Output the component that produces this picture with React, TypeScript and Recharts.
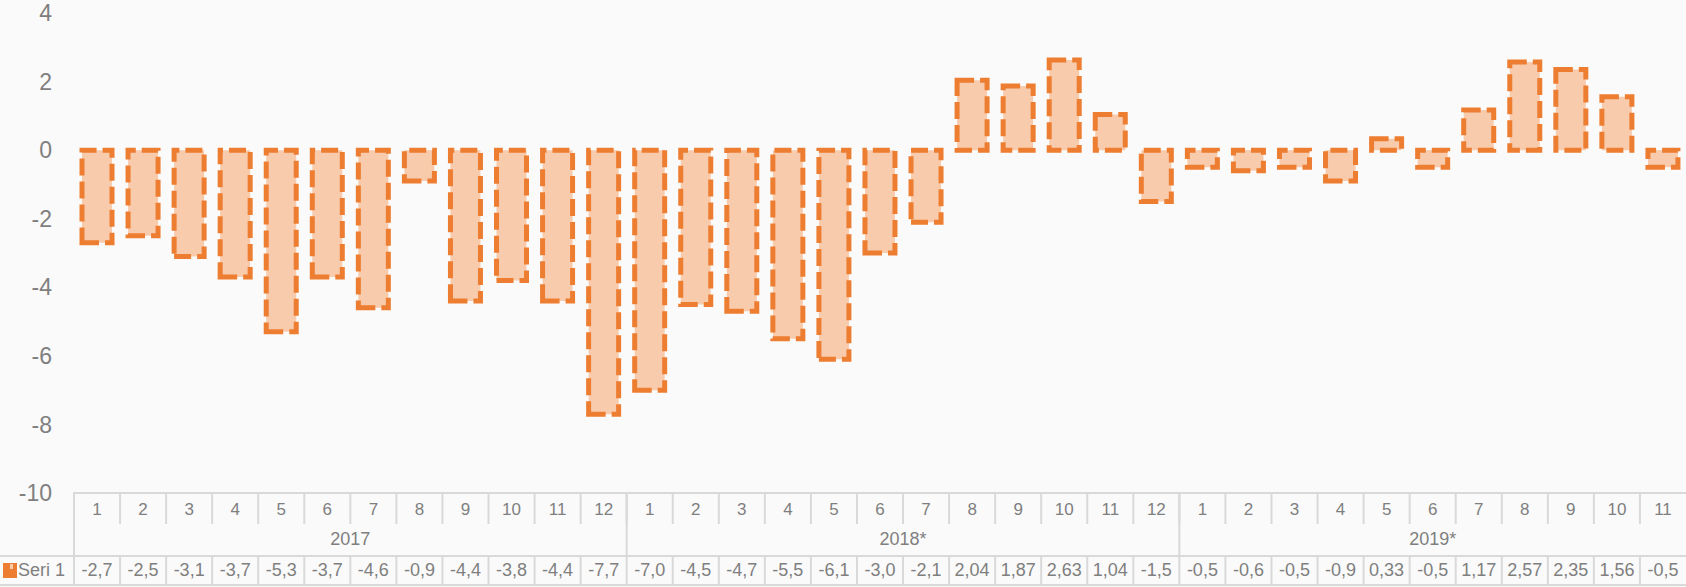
import React from "react";
import { Bar, ComposedChart, XAxis, YAxis } from "recharts";

const years = ["2017", "2018*", "2019*"];
const monthsPerYear = [12, 12, 11];

const months = [
  1, 2, 3, 4, 5, 6, 7, 8, 9, 10, 11, 12,
  1, 2, 3, 4, 5, 6, 7, 8, 9, 10, 11, 12,
  1, 2, 3, 4, 5, 6, 7, 8, 9, 10, 11,
];

const values = [
  -2.7, -2.5, -3.1, -3.7, -5.3, -3.7, -4.6, -0.9, -4.4, -3.8, -4.4, -7.7,
  -7.0, -4.5, -4.7, -5.5, -6.1, -3.0, -2.1, 2.04, 1.87, 2.63, 1.04, -1.5,
  -0.5, -0.6, -0.5, -0.9, 0.33, -0.5, 1.17, 2.57, 2.35, 1.56, -0.5,
];

const valueLabels = [
  "-2,7", "-2,5", "-3,1", "-3,7", "-5,3", "-3,7", "-4,6", "-0,9", "-4,4", "-3,8", "-4,4", "-7,7",
  "-7,0", "-4,5", "-4,7", "-5,5", "-6,1", "-3,0", "-2,1", "2,04", "1,87", "2,63", "1,04", "-1,5",
  "-0,5", "-0,6", "-0,5", "-0,9", "0,33", "-0,5", "1,17", "2,57", "2,35", "1,56", "-0,5",
];

const yTicks = [-10, -8, -6, -4, -2, 0, 2, 4];
const seriesName = "Seri 1";

const W = 1686;
const H = 587;
const LEFT = 74;
const TOP = 13;
const MONTH_H = 31;
const YEAR_H = 32;
const VALUE_H = 31;

const TEXT = "#7F7F7F";
const GRID = "#D9D9D9";
const ORANGE = "#ED7D31";
const PEACH = "#F8CBAD";
const FONT = "'Liberation Sans', Arial, sans-serif";

// year index for each column
const yearOf: number[] = [];
monthsPerYear.forEach((n, yi) => {
  for (let i = 0; i < n; i++) yearOf.push(yi);
});

const data = values.map((v, i) => ({
  idx: i,
  month: months[i],
  value: v,
  label: valueLabels[i],
  year: yearOf[i],
}));

const CELL = (W - LEFT) / data.length;

function MonthTick(props: any) {
  const { x, y, index } = props;
  const d = data[index];
  if (!d) return null;
  const right = x + CELL / 2;
  return (
    <g>
      <text
        x={x}
        y={y + 16}
        textAnchor="middle"
        dominantBaseline="central"
        fill={TEXT}
        fontSize={17}
        fontFamily={FONT}
      >
        {d.month}
      </text>
      {index < data.length - 1 && (
        <line x1={right} x2={right} y1={y} y2={y + MONTH_H} stroke={GRID} strokeWidth={2} />
      )}
      {index === 0 && (
        <line x1={LEFT} x2={LEFT} y1={y - 1} y2={y + MONTH_H + YEAR_H + VALUE_H - 1} stroke={GRID} strokeWidth={2} />
      )}
    </g>
  );
}

function YearTick(props: any) {
  const { x, y, index } = props;
  const d = data[index];
  if (!d) return null;
  if (index > 0 && data[index - 1].year === d.year) return null;
  const n = monthsPerYear[d.year];
  const start = x - CELL / 2;
  const end = start + n * CELL;
  return (
    <g>
      <text
        x={(start + end) / 2}
        y={y + 15}
        textAnchor="middle"
        dominantBaseline="central"
        fill={TEXT}
        fontSize={18}
        fontFamily={FONT}
      >
        {years[d.year]}
      </text>
      {index + n < data.length && (
        <line x1={end} x2={end} y1={y - MONTH_H} y2={y + YEAR_H} stroke={GRID} strokeWidth={2} />
      )}
    </g>
  );
}

function ValueTick(props: any) {
  const { x, y, index } = props;
  const d = data[index];
  if (!d) return null;
  const right = x + CELL / 2;
  return (
    <g>
      {index === 0 && (
        <g>
          <line x1={0} x2={W} y1={y} y2={y} stroke={GRID} strokeWidth={2} />
          <line x1={0} x2={W} y1={y + 29} y2={y + 29} stroke={GRID} strokeWidth={2} />
          <rect x={3} y={y + 7} width={14} height={15} fill={ORANGE} />
          <rect x={10} y={y + 8} width={3} height={5} fill={PEACH} />
          <text
            x={18}
            y={y + 14}
            dominantBaseline="central"
            fill={TEXT}
            fontSize={18}
            fontFamily={FONT}
          >
            {seriesName}
          </text>
        </g>
      )}
      <text
        x={x}
        y={y + 14}
        textAnchor="middle"
        dominantBaseline="central"
        fill={TEXT}
        fontSize={18}
        fontFamily={FONT}
      >
        {d.label}
      </text>
      {index < data.length - 1 && (
        <line x1={right} x2={right} y1={y} y2={y + 29} stroke={GRID} strokeWidth={2} />
      )}
    </g>
  );
}

export default function App() {
  return (
    <div
      style={{
        position: "absolute",
        left: 0,
        top: 0,
        width: W,
        height: H,
        background: "#FAFAFA",
        overflow: "hidden",
      }}
    >
      <ComposedChart
        width={W}
        height={H}
        data={data}
        margin={{ top: TOP, right: 0, bottom: 0, left: 0 }}
      >
        <YAxis
          domain={[-10, 4]}
          ticks={yTicks}
          interval={0}
          width={LEFT}
          tickSize={0}
          tickMargin={22}
          axisLine={false}
          tickLine={false}
          tick={{ fill: TEXT, fontSize: 23, fontFamily: FONT }}
        />
        <XAxis
          xAxisId="a_month"
          dataKey="idx"
          height={MONTH_H}
          interval={0}
          tickSize={0}
          tickMargin={0}
          tickLine={false}
          axisLine={{ stroke: GRID, strokeWidth: 2 }}
          tick={<MonthTick />}
        />
        <XAxis
          xAxisId="b_year"
          dataKey="idx"
          height={YEAR_H}
          interval={0}
          tickSize={0}
          tickMargin={0}
          tickLine={false}
          axisLine={false}
          tick={<YearTick />}
        />
        <XAxis
          xAxisId="c_value"
          dataKey="idx"
          height={VALUE_H}
          interval={0}
          tickSize={0}
          tickMargin={0}
          tickLine={false}
          axisLine={false}
          tick={<ValueTick />}
        />
        <Bar
          xAxisId="a_month"
          dataKey="value"
          barSize={30}
          fill={PEACH}
          stroke={ORANGE}
          strokeWidth={5}
          strokeDasharray="17 6"
          isAnimationActive={false}
        />
        <Bar xAxisId="b_year" dataKey="value" barSize={0} fill="none" isAnimationActive={false} />
        <Bar xAxisId="c_value" dataKey="value" barSize={0} fill="none" isAnimationActive={false} />
      </ComposedChart>
    </div>
  );
}
